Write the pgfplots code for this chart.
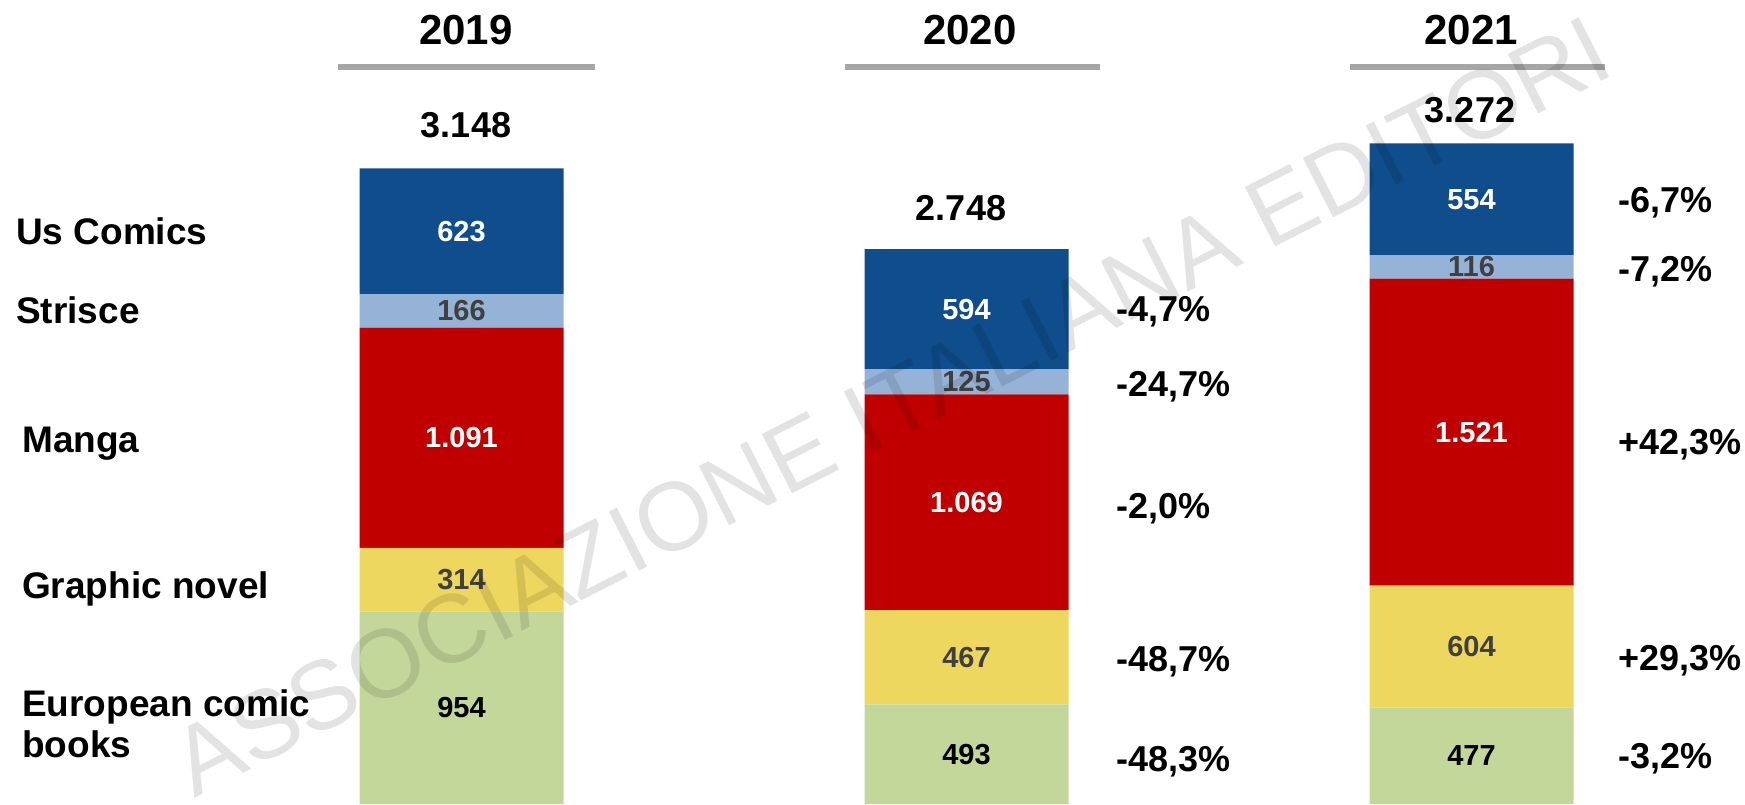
\documentclass[border=0pt]{standalone}
\usepackage{fontspec}
\setmainfont{Liberation Sans}
\usepackage{pgfplots}
\pgfplotsset{compat=1.18}
\usepackage{pgfplotstable}
\definecolor{usc}{RGB}{16,77,140}
\definecolor{strc}{RGB}{149,179,215}
\definecolor{mangac}{RGB}{192,0,0}
\definecolor{gnc}{RGB}{238,215,94}
\definecolor{euc}{RGB}{196,215,155}
\definecolor{lbl}{RGB}{64,64,64}
\definecolor{rulec}{RGB}{166,166,166}

\pgfplotstableread{
x eu gn manga str us
0 954 314 1091 166 623
1 493 467 1069 125 594
2 477 604 1521 116 554
}\sales

\newcommand{\fs}[1]{\fontsize{#1}{#1}\selectfont\bfseries}

\pgfplotsset{
  frame/.style={
    at={(0,0)}, anchor=south west, scale only axis,
    width=1745pt, height=804pt,
    xmin=-0.9139, xmax=2.5416, ymin=0, ymax=3982,
    hide axis,
  },
  seglabel/.style={
    draw=none, mark=none, nodes near coords, point meta=explicit,
    nodes near coords align={center},
    every node near coord/.append style={font=\fs{29}, anchor=center, text=#1},
  },
}

\begin{document}
\begin{tikzpicture}[x=1pt,y=1pt]
\useasboundingbox (0,0) rectangle (1745,804);
% stacked bars
\begin{axis}[frame, ybar stacked, bar width=0.404]
\addplot[fill=euc, draw=none] table[x=x,y=eu]{\sales};
\addplot[fill=gnc, draw=none] table[x=x,y=gn]{\sales};
\addplot[fill=mangac, draw=none] table[x=x,y=manga]{\sales};
\addplot[fill=strc, draw=none] table[x=x,y=str]{\sales};
\addplot[fill=usc, draw=none] table[x=x,y=us]{\sales};
\end{axis}
% segment values, centred in each segment
\begin{axis}[frame,
  /pgf/number format/1000 sep={.},
  /pgf/number format/assume math mode=true]
\addplot[seglabel=black] table[x=x, y expr=\thisrow{eu}/2, meta=eu]{\sales};
\addplot[seglabel=lbl] table[x=x, y expr=\thisrow{eu}+\thisrow{gn}/2, meta=gn]{\sales};
\addplot[seglabel=white] table[x=x, y expr=\thisrow{eu}+\thisrow{gn}+\thisrow{manga}/2, meta=manga]{\sales};
\addplot[seglabel=lbl] table[x=x, y expr=\thisrow{eu}+\thisrow{gn}+\thisrow{manga}+\thisrow{str}/2, meta=str]{\sales};
\addplot[seglabel=white] table[x=x, y expr=\thisrow{eu}+\thisrow{gn}+\thisrow{manga}+\thisrow{str}+\thisrow{us}/2, meta=us]{\sales};
\end{axis}

% year headers and rules
\node[font=\fs{42}, anchor=base, inner sep=0] at (466,759) {2019};
\node[font=\fs{42}, anchor=base, inner sep=0] at (970,759) {2020};
\node[font=\fs{42}, anchor=base, inner sep=0] at (1471,759) {2021};
\draw[rulec, line width=6pt] (338,737) -- (595,737);
\draw[rulec, line width=6pt] (845,737) -- (1100,737);
\draw[rulec, line width=6pt] (1350,737) -- (1605,737);

% totals
\node[font=\fs{36}, anchor=base, inner sep=0] at (466,666) {3.148};
\node[font=\fs{36}, anchor=base, inner sep=0] at (961,583) {2.748};
\node[font=\fs{36}, anchor=base, inner sep=0] at (1470,681) {3.272};

% category labels
\begin{scope}[every node/.style={font=\fs{37}, anchor=base west, inner sep=0}]
\node at (16,559) {Us Comics};
\node at (16,480) {Strisce};
\node at (22,351) {Manga};
\node at (22,206) {Graphic novel};
\node at (22,88) {European comic};
\node at (22,47) {books};
\end{scope}

% percentage changes
\begin{scope}[every node/.style={font=\fs{36}, anchor=base west, inner sep=0}]
\node at (1116,482) {-4,7\%};
\node at (1116,407) {-24,7\%};
\node at (1116,286) {-2,0\%};
\node at (1116,133) {-48,7\%};
\node at (1116,33) {-48,3\%};
\node at (1618,591) {-6,7\%};
\node at (1618,522) {-7,2\%};
\node at (1618,349) {+42,3\%};
\node at (1618,134) {+29,3\%};
\node at (1618,36) {-3,2\%};
\end{scope}

% watermark
\begin{scope}
\clip (0,0) rectangle (1745,804);
\node[rotate=27, font=\fontsize{97}{97}\selectfont, text=black, text opacity=0.11, inner sep=0]
  at (891,398) {ASSOCIAZIONE ITALIANA EDITORI};
\end{scope}
\end{tikzpicture}
\end{document}
